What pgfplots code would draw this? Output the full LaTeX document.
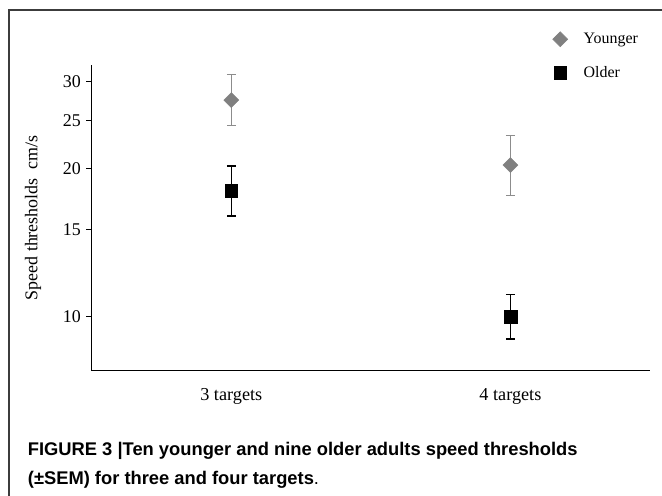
\documentclass[border=0pt]{standalone}
\usepackage{pgfplots}
\pgfplotsset{compat=1.18}
\usepackage{pgfplotstable}
\usepackage{fontspec}
\setmainfont{Liberation Serif}
\newfontfamily\capfont{Liberation Sans}
\definecolor{ygray}{RGB}{128,128,128}
\definecolor{ebgray}{RGB}{140,140,140}
\definecolor{framegray}{RGB}{60,60,60}

\pgfplotstableread{
x y ep em
1 27.5 3.5 3.1
2 20.3 3.0 2.7
}\younger
\pgfplotstableread{
x y ep em
1 18.0 2.2 2.0
2 10.0 1.1 1.0
}\older

\begin{document}
\begin{tikzpicture}
\useasboundingbox (0,0) rectangle (662bp,496bp);
\draw[framegray, line width=1.1bp] (9bp,0bp) -- (9bp,486bp) -- (662bp,486bp);
\begin{axis}[
  at={(91.7bp,125.3bp)}, anchor=south west,
  scale only axis, width=558.3bp, height=305.7bp,
  axis lines=left, axis line style={-, line width=1.2bp, black},
  ymode=log, ymin=7.77, ymax=32.4,
  xmin=0.5, xmax=2.5,
  xtick={1,2}, xticklabels={3 targets,4 targets},
  xtick style={draw=none},
  xticklabel style={anchor=base, yshift=-24bp, font=\fontsize{18.3}{21}\selectfont},
  ytick={10,15,20,25,30}, yticklabels={10,15,20,25,30},
  yminorticks=false,
  tick align=outside, major tick length=5.7bp,
  ytick style={line width=1.1bp, black},
  yticklabel style={anchor=east, inner sep=0pt, xshift=-5bp, font=\fontsize{18}{21}\selectfont},
  /pgf/number format/assume math mode=true,
  ylabel={Speed thresholds\ \ cm/s},
  ylabel style={at={(axis description cs:-0.105,0.5)}, anchor=center, font=\fontsize{18}{21}\selectfont},
  clip=false,
  legend style={at={(0.8254,1.111)}, anchor=north west, draw=none, fill=none,
    font=\fontsize{16}{19}\selectfont, row sep=17bp, column sep=14bp, inner sep=0pt},
  legend cell align=left,
]
\addplot[only marks, mark=square*, mark size=5.3bp, color=ygray, mark options={rotate=45, fill=ygray, draw=ygray, line width=0.5bp},
  error bars/.cd, y dir=both, y explicit,
  error bar style={ebgray, line width=1.4bp},
  error mark options={rotate=90, mark size=4.5bp, line width=1.4bp, ebgray}]
  table[x=x, y=y, y error plus=ep, y error minus=em] {\younger};
\addlegendentry{Younger}
\addplot[only marks, mark=square*, mark size=6.4bp, color=black, mark options={fill=black, draw=black, line width=0.5bp},
  error bars/.cd, y dir=both, y explicit,
  error bar style={black, line width=1.4bp},
  error mark options={rotate=90, mark size=4.5bp, line width=1.4bp, black}]
  table[x=x, y=y, y error plus=ep, y error minus=em] {\older};
\addlegendentry{Older}
\end{axis}
\node[anchor=base west, inner sep=0pt, font=\capfont\bfseries\fontsize{18.4}{21}\selectfont] at (27.7bp,40bp) {FIGURE 3 |Ten younger and nine older adults speed thresholds};
\node[anchor=base west, inner sep=0pt, font=\capfont\fontsize{18.4}{21}\selectfont] at (27.7bp,12bp) {\textbf{(±SEM) for three and four targets}.};
\end{tikzpicture}
\end{document}
